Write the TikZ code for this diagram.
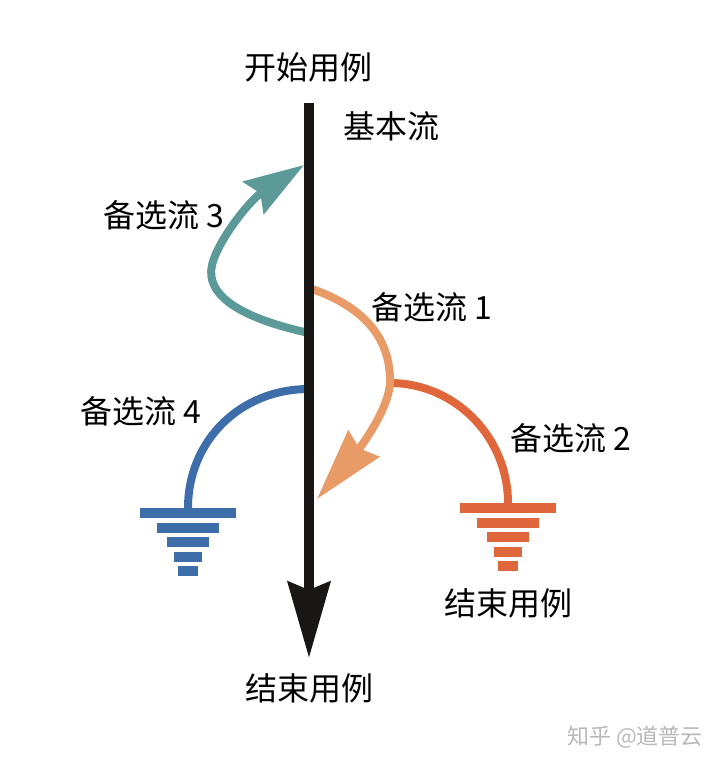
\documentclass[tikz,border=0pt]{standalone}
\usepackage{fontspec}
\setmainfont{Noto Sans CJK SC}
\usepackage{tikz}
\usetikzlibrary{arrows.meta}
\definecolor{mainblack}{RGB}{25,22,22}
\definecolor{flowteal}{RGB}{91,154,153}
\definecolor{flowpeach}{RGB}{232,155,102}
\definecolor{flowred}{RGB}{224,102,60}
\definecolor{flowblue}{RGB}{61,110,170}
\tikzset{
    flow/.style={line width=4pt, line cap=butt},
    lbl/.style={font=\fontsize{16}{19}\selectfont, inner sep=0pt}}

\begin{document}
\begin{tikzpicture}[x=0.5pt, y=-0.5pt]
        \useasboundingbox (0,0) rectangle (720,766);

            \coordinate (top) at (309,103);
            \coordinate (bot) at (309,658);
            \coordinate (s3) at (309,333);
            \coordinate (e3) at (304,165);
            \coordinate (s1) at (309,288);
            \coordinate (m1) at (390,383);
            \coordinate (e1) at (317,499);
            \coordinate (s4) at (309,389);
            \coordinate (g4) at (188,508);
            \coordinate (g2) at (508,503);

            \node[lbl] (start) at (308,67) {开始用例};
            \node[lbl] (basic) at (391,126) {基本流};
            \node[lbl] (alt3) at (164,215) {备选流 3};
            \node[lbl] (alt1) at (432,307) {备选流 1};
            \node[lbl] (alt4) at (141,411) {备选流 4};
            \node[lbl] (alt2) at (571,438) {备选流 2};
            \node[lbl] (end2) at (508,603) {结束用例};
            \node[lbl] (end) at (309,688) {结束用例};
            \node[font=\fontsize{11}{13}\selectfont, text=black!28] (wm) at (635,737) {知乎 @道普云};

            \draw[flow, flowteal, -{Stealth[length=30pt, width=19pt, inset=4pt]}] (s3) .. controls (240,318) and (205,295) .. (212,265) .. controls (218,240) and (250,200) .. (e3);
            \draw[flow, flowred] (m1) .. controls (455,383) and (508,437) .. (g2);
            \draw[flow, flowpeach, -{Stealth[length=36pt, width=20pt, inset=3pt]}] (s1) .. controls (360,305) and (391,335) .. (m1) .. controls (388,415) and (350,460) .. (e1);
            \draw[flow, flowblue] (s4) .. controls (240,389) and (188,441) .. (g4);

            \foreach \g/\c in {g4/flowblue, g2/flowred}
                \foreach \dy/\w in {0/48, 15/31, 29/21, 44/14, 58/10}
                    \fill[\c] ([shift={(-\w,\dy)}]\g) rectangle ++(2*\w,10);

            \draw[line width=5pt, mainblack, -{Stealth[length=38pt, width=21pt, inset=4pt]}] (top) -- (bot);

        \end{tikzpicture}
\end{document}
